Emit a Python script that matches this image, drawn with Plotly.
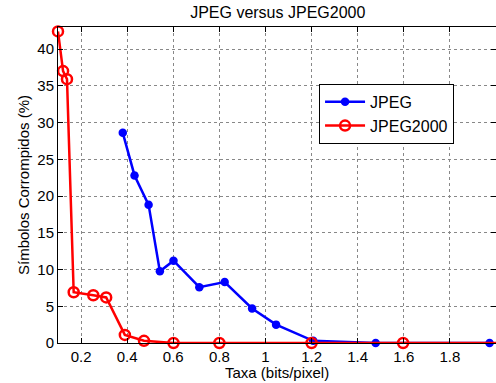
import plotly.graph_objects as go

jpeg_x = [0.381, 0.432, 0.493, 0.542, 0.601, 0.713, 0.823, 0.942, 1.046, 1.207, 1.478, 1.972]
jpeg_y = [28.6, 22.8, 18.8, 9.75, 11.2, 7.6, 8.3, 4.7, 2.5, 0.3, 0.0, 0.0]

j2k_x = [0.1, 0.122, 0.139, 0.168, 0.253, 0.309, 0.39, 0.473, 0.601, 0.8, 1.2, 1.597, 2.05]
j2k_y = [42.4, 37.0, 35.9, 6.9, 6.5, 6.2, 1.1, 0.3, 0.0, 0.0, 0.0, 0.0, 0.0]

x_ticks = [0.2, 0.4, 0.6, 0.8, 1, 1.2, 1.4, 1.6, 1.8]
y_ticks = [0, 5, 10, 15, 20, 25, 30, 35, 40]

font = "Liberation Sans, Arial, Helvetica, sans-serif"

fig = go.Figure()
fig.add_trace(go.Scatter(
    x=jpeg_x, y=jpeg_y, name="JPEG", mode="lines+markers",
    line=dict(color="#0000ff", width=2.5),
    marker=dict(symbol="circle", size=8.5, color="#0000ff"),
    cliponaxis=False,
))
fig.add_trace(go.Scatter(
    x=j2k_x, y=j2k_y, name="JPEG2000", mode="lines+markers",
    line=dict(color="#ff0000", width=2.5),
    marker=dict(symbol="circle-open", size=10, color="#ff0000", line=dict(width=2.5)),
    cliponaxis=False,
))

axis_common = dict(
    showline=True, linecolor="black", linewidth=1,
    mirror="ticks", ticks="inside", ticklen=5, tickcolor="black",
    showgrid=True, gridcolor="#888888", griddash="dot", gridwidth=1,
    zeroline=False,
    tickfont=dict(family=font, size=15, color="black"),
)

fig.update_layout(
    width=496, height=383,
    margin=dict(l=58, r=0, t=27, b=40),
    paper_bgcolor="white", plot_bgcolor="white",
    title=dict(text="JPEG versus JPEG2000", x=0.56, xanchor="center", y=0.968, yanchor="middle",
               font=dict(family=font, size=16, color="black")),
    xaxis=dict(range=[0.1, 2.0], tickvals=x_ticks,
               ticktext=[str(v) for v in x_ticks],
               automargin=False,
               **axis_common),
    yaxis=dict(range=[0, 43], tickvals=y_ticks,
               title=dict(text="Símbolos Corrompidos (%)", font=dict(family=font, size=15, color="black"), standoff=4),
               automargin=False,
               **axis_common),
    legend=dict(x=0.596, y=0.82, xanchor="left", yanchor="top",
                bordercolor="black", borderwidth=1, bgcolor="white",
                font=dict(family=font, size=16, color="black"),
                tracegroupgap=0, itemwidth=40),
    showlegend=True,
    annotations=[dict(text="Taxa (bits/pixel)", xref="paper", yref="paper",
                      x=0.5, y=-0.093, xanchor="center", yanchor="middle",
                      showarrow=False, font=dict(family=font, size=15, color="black"))],
)

fig.write_html("out.html", post_script="document.body.style.margin='0';",
               config={"displayModeBar": False})
